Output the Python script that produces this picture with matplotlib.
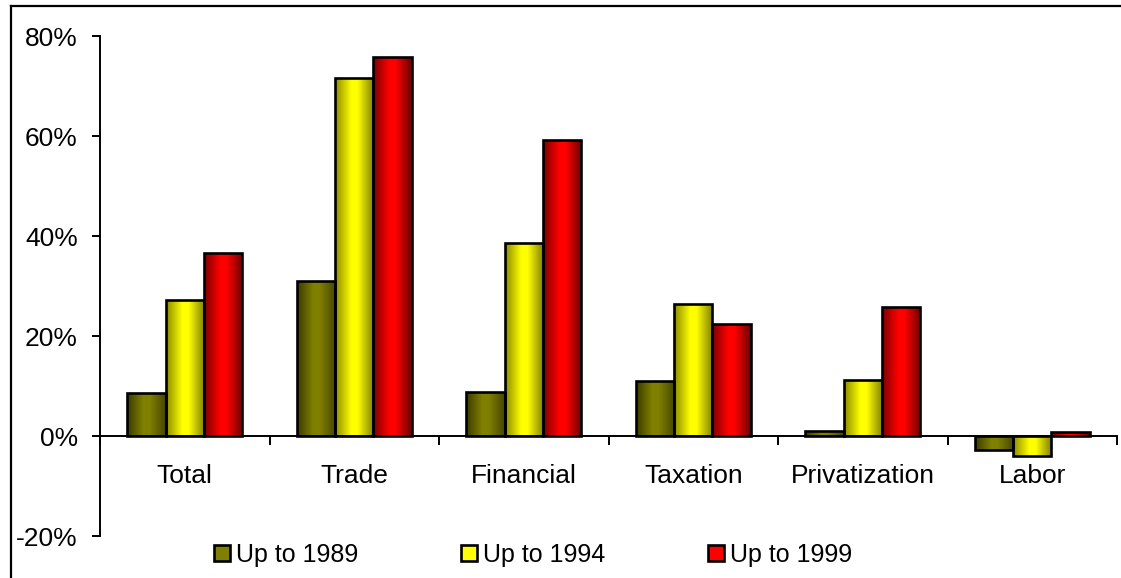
import numpy as np
import matplotlib
matplotlib.use("Agg")
import matplotlib.pyplot as plt
from matplotlib.colors import LinearSegmentedColormap
from matplotlib.patches import Patch
from matplotlib.lines import Line2D
from matplotlib.ticker import FixedLocator, FuncFormatter

plt.rcParams['font.family'] = ['Liberation Sans', 'DejaVu Sans']

categories = ["Total", "Trade", "Financial", "Taxation", "Privatization", "Labor"]
series_names = ["Up to 1989", "Up to 1994", "Up to 1999"]
up_to_1989 = [8.7, 31.1, 8.9, 11.1, 1.1, -2.8]
up_to_1994 = [27.3, 71.7, 38.6, 26.5, 11.2, -4.0]
up_to_1999 = [36.6, 75.9, 59.2, 22.4, 25.9, 0.9]
yticks = [-20, 0, 20, 40, 60, 80]

series = [up_to_1989, up_to_1994, up_to_1999]
bright = ["#808000", "#ffff00", "#ff0000"]
dark_l = ["#3a3a00", "#8a8a00", "#7a0000"]
dark_r = ["#464600", "#7e7e00", "#6a0000"]

fig = plt.figure(figsize=(11.21, 5.78), dpi=100)
ax = fig.add_axes([100/1121, 42/578, 1017/1121, 500/578])

n = len(categories)
x = np.arange(n)
w = 0.226
grad = np.linspace(0, 1, 256).reshape(1, -1)

for k, vals in enumerate(series):
    cmap = LinearSegmentedColormap.from_list(
        f"g{k}", [(0, dark_l[k]), (0.42, bright[k]), (0.58, bright[k]), (1, dark_r[k])])
    bars = ax.bar(x + (k - 1) * w, vals, width=w, facecolor='none',
                  edgecolor='black', linewidth=1.9, zorder=3)
    for b in bars:
        bx, by = b.get_x(), b.get_y()
        bw, bh = b.get_width(), b.get_height()
        im = ax.imshow(grad, extent=[bx, bx + bw, by, by + bh], aspect='auto',
                       cmap=cmap, zorder=2, interpolation='bilinear')
        im.set_clip_path(b)

ax.set_xlim(-0.5, n - 0.5)
ax.set_ylim(-20, 80)

for s in ['top', 'right']:
    ax.spines[s].set_visible(False)
ax.spines['left'].set_linewidth(1.4)
ax.spines['bottom'].set_linewidth(1.4)
ax.spines['bottom'].set_position(('data', 0))

fs = 19
ax.set_yticks(yticks)
ax.yaxis.set_major_formatter(FuncFormatter(lambda v, p: f"{int(v)}%"))
ax.tick_params(axis='y', direction='out', length=6, width=1.4, pad=10,
               labelsize=fs)

ax.xaxis.set_major_locator(FixedLocator(np.arange(-0.5, n, 1.0)))
ax.xaxis.set_major_formatter(FuncFormatter(lambda v, p: ""))
ax.xaxis.set_minor_locator(FixedLocator(x))
ax.set_xticklabels(categories, minor=True)
ax.tick_params(axis='x', which='major', direction='out', length=6.5, width=1.4)
ax.tick_params(axis='x', which='minor', length=0, pad=20, labelsize=fs)

handles = [Patch(facecolor=c, edgecolor='black', linewidth=1.9) for c in bright]
fig.legend(handles, series_names, loc='center', bbox_to_anchor=(533/1121, 23/578),
           ncol=3, frameon=False, fontsize=18, handlelength=0.64, handleheight=0.64,
           handletextpad=0.24, columnspacing=4.1, borderpad=0)

fig.add_artist(Line2D([11/1121, 11/1121], [0, 1 - 6/578], transform=fig.transFigure,
                      color='black', linewidth=1.6))
fig.add_artist(Line2D([11/1121, 1], [1 - 6/578, 1 - 6/578], transform=fig.transFigure,
                      color='black', linewidth=1.6))

fig.savefig("out.png", dpi=100)
